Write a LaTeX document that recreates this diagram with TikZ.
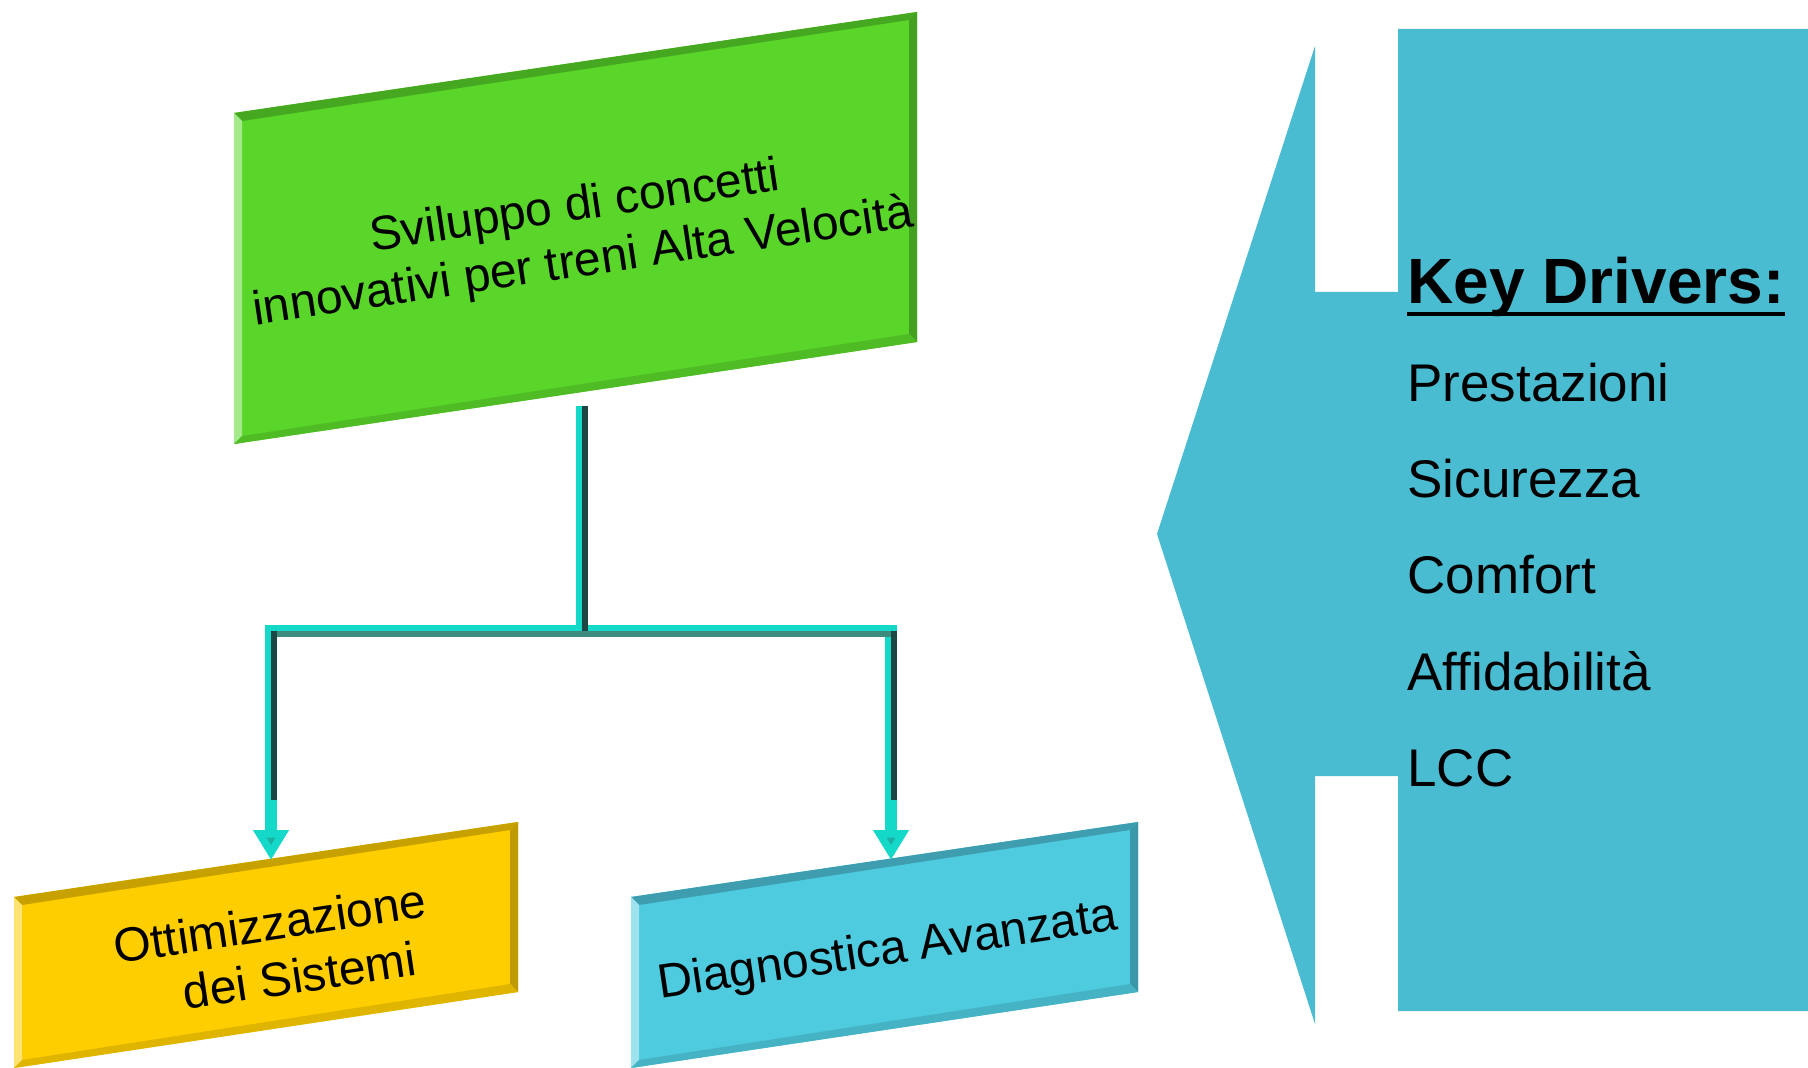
\documentclass[tikz,border=0pt]{standalone}
\usepackage{fontspec}
\setmainfont{Liberation Sans}
\usetikzlibrary{arrows.meta,calc}
\definecolor{boxgreen}{HTML}{5AD62A}
\definecolor{boxyellow}{HTML}{FFCE00}
\definecolor{boxblue}{HTML}{4FCBE0}
\definecolor{kdblue}{HTML}{4ABCD2}
\definecolor{connlight}{HTML}{14D8C8}
\definecolor{conndark}{HTML}{1C4744}
\definecolor{conngray}{HTML}{3D8A7E}
\definecolor{conntipc}{HTML}{1AB0A3}
\newcommand{\bevbox}[5]{%
  \fill[#1] #2 -- #3 -- #4 -- #5 -- cycle;
  \fill[#1!78!black] #2 -- #3 -- ($#3+(-8,8)$) -- ($#2+(8,8)$) -- cycle;
  \fill[#1!55!white] #2 -- ($#2+(8,8)$) -- ($#5+(8,-8)$) -- #5 -- cycle;
  \fill[#1!75!black] #3 -- #4 -- ($#4+(-8,-8)$) -- ($#3+(-8,8)$) -- cycle;
  \fill[#1!88!black] #5 -- ($#5+(8,-8)$) -- ($#4+(-8,-8)$) -- #4 -- cycle;
}
\tikzset{
  boxtext/.style={align=center, inner sep=0pt, rotate=8.5, font=\fontsize{24}{28}\selectfont},
  conn/.style={draw=connlight, line width=6pt},
  conntip/.style={conn, -{Triangle[width=17pt,length=15pt,fill=conntipc]}},
  vshade/.style={draw=conndark, line width=3pt, transform canvas={xshift=1.5pt}},
  hshade/.style={draw=conngray, line width=3pt, transform canvas={yshift=-1.5pt}},
  kdtext/.style={anchor=base west, inner sep=0pt, font=\fontsize{26.5}{30}\selectfont},
}
\begin{document}
\begin{tikzpicture}[x=0.5pt,y=-0.5pt]
\useasboundingbox (0,0) rectangle (1808,1068);
\fill[white] (0,0) rectangle (1808,1068);

% boxes
\bevbox{boxgreen}{(234,113)}{(917,12)}{(917,342)}{(234,444)}
\bevbox{boxyellow}{(14,897)}{(518,822)}{(518,992)}{(14,1068)}
\bevbox{boxblue}{(631,897)}{(1138,822)}{(1138,992)}{(631,1068)}

\node[boxtext] (top) at (579,236) {Sviluppo di concetti\\innovativi per treni Alta Velocità};
\node[boxtext] (opt) at (274,951) {Ottimizzazione\\\hspace*{0.9em}dei Sistemi};
\node[boxtext] (diag) at (888,952) {Diagnostica Avanzata};

% connectors
\coordinate (gbot) at (582,406);
\coordinate (split) at (582,631);
\coordinate (ycorner) at (271,631);
\coordinate (bcorner) at (891,631);
\coordinate (ytip) at (271,860);
\coordinate (btip) at (891,860);
\draw[conn] (gbot) -- (split);
\draw[conntip] (split) -| (ytip);
\draw[conntip] (split) -| (btip);
\draw[hshade] (split) -- (ycorner);
\draw[hshade] (split) -- (bcorner);
\draw[vshade] (gbot) -- (split);
\draw[vshade, shorten >=30pt] (ycorner) -- (ytip);
\draw[vshade, shorten >=30pt] (bcorner) -- (btip);

% key drivers arrow
\fill[kdblue] (1157,534) -- (1315,46) -- (1315,292) -- (1398,292) -- (1398,29)
  -- (1808,29) -- (1808,1011) -- (1398,1011) -- (1398,776) -- (1315,776)
  -- (1315,1024) -- cycle;

\node[kdtext, font=\fontsize{32}{36}\selectfont\bfseries] (kd) at (1407,304) {Key Drivers:};
\draw[line width=2pt] ([yshift=-5pt]kd.base west) -- ([yshift=-5pt]kd.base east);
\node[kdtext] (k1) at (1407,402) {Prestazioni};
\node[kdtext] (k2) at (1407,498) {Sicurezza};
\node[kdtext] (k3) at (1407,594) {Comfort};
\node[kdtext] (k4) at (1407,690) {Affidabilità};
\node[kdtext] (k5) at (1407,786) {LCC};
\end{tikzpicture}
\end{document}
